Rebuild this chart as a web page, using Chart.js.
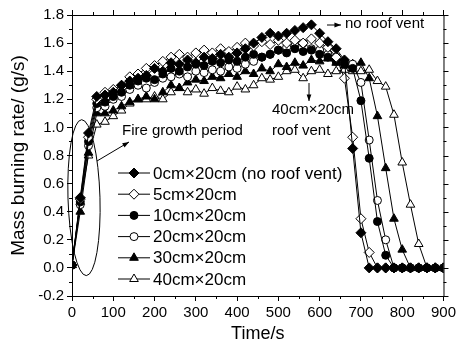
<!DOCTYPE html>
<html>
<head>
<meta charset="utf-8">
<script src="https://cdn.jsdelivr.net/npm/chart.js@4"></script>
<style>
  body { margin: 0; background: #fff; }
</style>
</head>
<body>
<canvas id="burnChart" width="459" height="346"></canvas>
<script>
// time axis (s), one sample every 20 s
const times = [0, 20, 40, 60, 80, 100, 120, 140, 160, 180, 200, 220, 240, 260, 280, 300, 320, 340, 360, 380,
    400, 420, 440, 460, 480, 500, 520, 540, 560, 580, 600, 620, 640, 660, 680, 700, 720, 740, 760, 780,
    800, 820, 840, 860, 880, 900];

const seriesLabels = ['0cm×20cm (no roof vent)', '5cm×20cm', '10cm×20cm', '20cm×20cm', '30cm×20cm', '40cm×20cm'];

// mass burning rate (g/s)
const vent0 = [0.02, 0.50, 0.96, 1.22, 1.23, 1.25, 1.30, 1.33, 1.35, 1.37, 1.42, 1.40, 1.46, 1.45, 1.48, 1.46, 1.50, 1.49, 1.52, 1.50,
    1.53, 1.56, 1.60, 1.64, 1.67, 1.65, 1.67, 1.69, 1.71, 1.73, 1.67, 1.61, 1.56, 1.48, 0.85, 0.25, 0.00, 0.00, 0.00, 0.00,
    0.00, 0.00, 0.00, 0.00, 0.00, 0.00];
const vent5 = [0.02, 0.49, 0.93, 1.20, 1.25, 1.27, 1.30, 1.36, 1.38, 1.42, 1.44, 1.47, 1.50, 1.52, 1.50, 1.53, 1.55, 1.53, 1.56, 1.54,
    1.57, 1.60, 1.58, 1.61, 1.59, 1.62, 1.60, 1.62, 1.60, 1.63, 1.60, 1.57, 1.50, 1.35, 0.93, 0.35, 0.11, 0.00, 0.00, 0.00,
    0.00, 0.00, 0.00, 0.00, 0.00, 0.00];
const vent10 = [0.02, 0.47, 0.90, 1.17, 1.18, 1.22, 1.25, 1.30, 1.33, 1.35, 1.34, 1.38, 1.42, 1.40, 1.43, 1.45, 1.44, 1.47, 1.46, 1.48,
    1.47, 1.50, 1.52, 1.50, 1.52, 1.55, 1.53, 1.56, 1.54, 1.55, 1.52, 1.50, 1.47, 1.45, 1.42, 1.19, 0.78, 0.33, 0.09, 0.00,
    0.00, 0.00, 0.00, 0.00, 0.00, 0.00];
const vent20 = [0.02, 0.45, 0.87, 1.14, 1.15, 1.20, 1.22, 1.27, 1.30, 1.28, 1.32, 1.35, 1.36, 1.38, 1.36, 1.40, 1.39, 1.41, 1.40, 1.43,
    1.42, 1.45, 1.47, 1.50, 1.52, 1.55, 1.57, 1.58, 1.60, 1.56, 1.55, 1.52, 1.50, 1.47, 1.45, 1.32, 0.91, 0.48, 0.20, 0.00,
    0.00, 0.00, 0.00, 0.00, 0.00, 0.00];
const vent30 = [0.02, 0.40, 0.82, 1.10, 1.10, 1.12, 1.15, 1.18, 1.20, 1.22, 1.20, 1.25, 1.30, 1.28, 1.32, 1.34, 1.33, 1.36, 1.35, 1.38,
    1.36, 1.40, 1.38, 1.42, 1.40, 1.45, 1.43, 1.46, 1.44, 1.48, 1.47, 1.49, 1.46, 1.44, 1.45, 1.46, 1.35, 1.08, 0.71, 0.35,
    0.13, 0.00, 0.00, 0.00, 0.00, 0.00];
const vent40 = [0.02, 0.47, 0.80, 1.02, 1.04, 1.08, 1.12, 1.17, 1.20, 1.20, 1.22, 1.20, 1.25, 1.28, 1.25, 1.27, 1.24, 1.28, 1.26, 1.25,
    1.29, 1.27, 1.30, 1.35, 1.34, 1.36, 1.40, 1.41, 1.35, 1.40, 1.41, 1.38, 1.40, 1.41, 1.40, 1.40, 1.41, 1.33, 1.29, 1.09,
    0.75, 0.45, 0.17, 0.00, 0.00, 0.00];

const xMin = 0, xMax = 900, xStep = 100, xMinorStep = 50;
const yMin = -0.2, yMax = 1.8, yStep = 0.2, yMinorStep = 0.1;

const allSeries = [vent0, vent5, vent10, vent20, vent30, vent40];
const markerStyles = ['rectRot', 'rectRot', 'circle', 'circle', 'triangle', 'triangle'];
const markerFill = ['#000', '#fff', '#000', '#fff', '#000', '#fff'];
const markerSize = [5, 5, 4, 4, 5, 5];

const FONT = "'Liberation Sans', Arial, sans-serif";

var datasets = allSeries.map((vals, index) => {
    return {
        label: seriesLabels[index],
        data: times.map((t, i) => ({ x: t, y: vals[i] })),
        borderColor: '#000',
        borderWidth: 1,
        backgroundColor: markerFill[index],
        pointStyle: markerStyles[index],
        pointRadius: markerSize[index],
        pointBackgroundColor: markerFill[index],
        pointBorderColor: '#000',
        pointBorderWidth: 1,
        tension: 0,
        fill: false
    };
});

function drawMarker(ctx, style, fill, r, x, y) {
    ctx.save();
    ctx.beginPath();
    if (style === 'rectRot') {
        ctx.moveTo(x, y - r); ctx.lineTo(x + r, y); ctx.lineTo(x, y + r); ctx.lineTo(x - r, y);
        ctx.closePath();
    } else if (style === 'circle') {
        ctx.arc(x, y, r, 0, Math.PI * 2);
    } else {
        var h = r * 1.5, s = r * Math.sqrt(3);
        ctx.moveTo(x, y - r); ctx.lineTo(x + s / 2, y + h - r); ctx.lineTo(x - s / 2, y + h - r);
        ctx.closePath();
    }
    ctx.fillStyle = fill;
    ctx.fill();
    ctx.lineWidth = 1;
    ctx.strokeStyle = '#000';
    ctx.stroke();
    ctx.restore();
}

function arrow(ctx, x1, y1, x2, y2) {
    var a = Math.atan2(y2 - y1, x2 - x1);
    ctx.beginPath();
    ctx.moveTo(x1, y1);
    ctx.lineTo(x2, y2);
    ctx.stroke();
    ctx.beginPath();
    ctx.moveTo(x2, y2);
    ctx.lineTo(x2 - 7 * Math.cos(a - 0.35), y2 - 7 * Math.sin(a - 0.35));
    ctx.lineTo(x2 - 7 * Math.cos(a + 0.35), y2 - 7 * Math.sin(a + 0.35));
    ctx.closePath();
    ctx.fill();
}

// frame, minor ticks, legend and notes
const decorPlugin = {
    id: 'decor',
    afterDatasetsDraw(chart) {
        const ctx = chart.ctx;
        const xs = chart.scales.x, ys = chart.scales.y;
        const a = chart.chartArea;
        ctx.save();
        ctx.strokeStyle = '#000';
        ctx.fillStyle = '#000';
        ctx.lineWidth = 1;

        // top + right frame
        ctx.beginPath();
        ctx.moveTo(a.left, a.top + 0.5); ctx.lineTo(a.right + 0.5, a.top + 0.5);
        ctx.lineTo(a.right + 0.5, a.bottom);
        ctx.stroke();

        // ticks on all sides
        ctx.beginPath();
        for (let v = xMin; v <= xMax + 1e-6; v += xMinorStep) {
            const px = Math.round(xs.getPixelForValue(v)) + 0.5;
            const major = Math.abs(v / xStep - Math.round(v / xStep)) < 1e-6;
            const len = major ? 5 : 3;
            ctx.moveTo(px, a.top); ctx.lineTo(px, a.top - len);
            if (!major) { ctx.moveTo(px, a.bottom); ctx.lineTo(px, a.bottom + len); }
        }
        for (let v = yMin; v <= yMax + 1e-6; v += yMinorStep) {
            const py = Math.round(ys.getPixelForValue(v)) + 0.5;
            const major = Math.abs(v / yStep - Math.round(v / yStep)) < 1e-6;
            const len = major ? 5 : 3;
            ctx.moveTo(a.right, py); ctx.lineTo(a.right + len, py);
            if (!major) { ctx.moveTo(a.left, py); ctx.lineTo(a.left - len, py); }
        }
        ctx.stroke();

        // legend
        ctx.font = '17px ' + FONT;
        ctx.textBaseline = 'middle';
        ctx.textAlign = 'left';
        for (let i = 0; i < seriesLabels.length; i++) {
            const y = 173 + i * 21.2;
            ctx.beginPath();
            ctx.moveTo(118, y); ctx.lineTo(150, y);
            ctx.stroke();
            drawMarker(ctx, markerStyles[i], markerFill[i], markerSize[i], 134, y);
            ctx.fillStyle = '#000';
            ctx.fillText(seriesLabels[i], 153, y + 1);
        }

        // fire growth ellipse
        ctx.beginPath();
        ctx.ellipse(xs.getPixelForValue(29), ys.getPixelForValue(0.5), 16, 78, -0.03, 0, Math.PI * 2);
        ctx.stroke();
        arrow(ctx, 97, 161, 129, 142);
        ctx.font = '15px ' + FONT;
        ctx.fillText('Fire growth period', 122, 131);

        // no roof vent note
        arrow(ctx, 327, 25, 341, 25);
        ctx.fillText('no roof vent', 345, 24);

        // 40cm roof vent note
        arrow(ctx, 309, 83, 309, 101);
        ctx.fillText('40cm×20cm', 272, 110);
        ctx.fillText('roof vent', 272, 131);

        ctx.restore();
    }
};

var ctx = document.getElementById('burnChart').getContext('2d');
new Chart(ctx, {
    type: 'line',
    data: { datasets: datasets },
    options: {
        responsive: false,
        animation: false,
        layout: { padding: { top: 15, right: 10, left: 0, bottom: 0 } },
        plugins: {
            legend: { display: false },
            tooltip: { enabled: false }
        },
        scales: {
            x: {
                type: 'linear',
                min: xMin,
                max: xMax,
                afterFit: (scale) => { scale.height = 50; },
                ticks: { stepSize: xStep, color: '#000', font: { family: FONT, size: 15 }, padding: 3, maxRotation: 0 },
                grid: { drawOnChartArea: false, color: '#000', tickLength: 5 },
                border: { color: '#000', width: 1 },
                title: { display: true, text: 'Time/s', color: '#000', font: { family: FONT, size: 18 }, padding: { top: 0, bottom: 1 } }
            },
            y: {
                min: yMin,
                max: yMax,
                afterFit: (scale) => { scale.width = 72; },
                ticks: {
                    stepSize: yStep, color: '#000', font: { family: FONT, size: 15 }, padding: 3,
                    callback: (v) => (Math.abs(v) < 1e-9 ? 0 : v).toFixed(1)
                },
                grid: { drawOnChartArea: false, color: '#000', tickLength: 5 },
                border: { color: '#000', width: 1 },
                title: { display: true, text: 'Mass burning rate/ (g/s)', color: '#000', font: { family: FONT, size: 19 }, padding: { top: 7, bottom: 0 } }
            }
        }
    },
    plugins: [decorPlugin]
});
</script>
</body>
</html>
